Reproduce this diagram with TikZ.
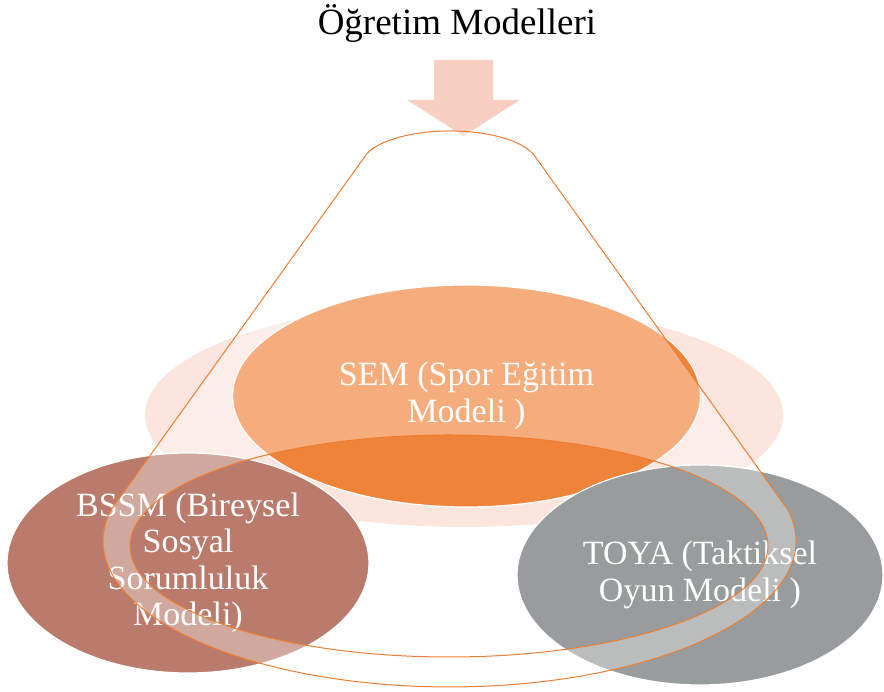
\documentclass[tikz,border=0pt]{standalone}
\usepackage{fontspec}
\setmainfont{Liberation Serif}
\usepackage{tikz}
\usetikzlibrary{
  shapes.geometric,
  positioning
}
\definecolor{peachback}{RGB}{251,229,221}
\definecolor{semorange}{RGB}{240,131,58}
\definecolor{bssmbrown}{RGB}{186,123,109}
\definecolor{toyagray}{RGB}{153,156,156}
\definecolor{arrowpink}{RGB}{248,208,195}
\definecolor{funnelorange}{RGB}{237,125,49}

\begin{document}
\begin{tikzpicture}[x=1pt,y=1pt,
  model/.style={ellipse, draw=white, line width=1.2pt, text=white, align=center, inner sep=0pt, font=\fontsize{34}{36.5}\selectfont},
  funnel/.style={fill=white, fill opacity=.34, draw=funnelorange, line width=1pt, even odd rule}]
\useasboundingbox (0,0) rectangle (884,692);
\node[font=\fontsize{37}{40}\selectfont, anchor=base] (title) at (457,657) {Öğretim Modelleri};
\fill[arrowpink] (434,632) -- (493,632) -- (493,592) -- (520,592) -- (463.5,556) -- (407,592) -- (434,592) -- cycle;
\node[ellipse, fill=peachback, minimum width=638pt, minimum height=224pt] (back) at (464,277) {};
\node[model, fill=semorange, minimum width=468pt, minimum height=222pt] (sem) at (466.5,296) {SEM (Spor Eğitim\\Modeli )};
\node[model, fill=bssmbrown, minimum width=362pt, minimum height=220pt] (bssm) at (188,129) {BSSM (Bireysel\\Sosyal\\Sorumluluk\\Modeli)};
\node[model, fill=toyagray, minimum width=366pt, minimum height=220pt] (toya) at (700,117) {TOYA (Taktiksel\\Oyun Modeli )};
% funnel with its open rim
\path[funnel] (363.9,534.1) arc[start angle=168, end angle=12, x radius=88, y radius=34]
  -- (788.4,181.4) arc[start angle=12, end angle=-192, x radius=346.5, y radius=146] -- cycle
  (449,146) ellipse[x radius=319, y radius=111];
\end{tikzpicture}
\end{document}
